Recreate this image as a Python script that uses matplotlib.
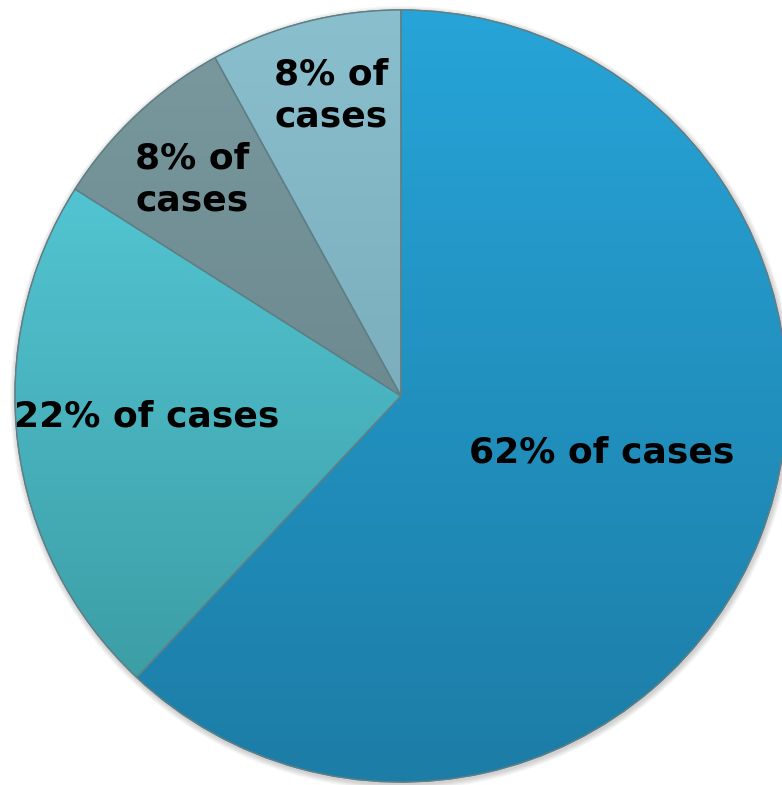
import numpy as np
import matplotlib.pyplot as plt
from matplotlib.colors import to_rgb

# slice data, clockwise from 12 o'clock
shares = [62, 22, 8, 8]
labels = ['62% of cases', '22% of cases', '8% of\ncases', '8% of\ncases']
top_colors = ['#27A4D8', '#5AD2E2', '#7A9AA0', '#8ABFCE']
bottom_colors = ['#1C7DA6', '#38969C', '#5F7A7E', '#6E9EAD']
# label placement (fraction of radius, angle in degrees)
label_pos = [(0.54, -15.8), (0.66, 184.7), (0.78, 134.0), (0.80, 103.0)]

fig = plt.figure(figsize=(7.82, 7.85), dpi=100)
ax = fig.add_axes([0, 0, 1, 1])

cx, cy, r = 401, 389, 386

# soft shadow
for k in range(6):
    circ = plt.Circle((cx + 1, cy - 2), r + 1 + k, color='k', alpha=0.03, lw=0)
    ax.add_patch(circ)

wedges, _ = ax.pie(shares, startangle=90, counterclock=False, center=(cx, cy),
                   radius=r, frame=True,
                   wedgeprops=dict(edgecolor='#5f7f86', linewidth=1.0))
ax.set_xlim(0, 782)
ax.set_ylim(0, 785)
ax.set_aspect('equal')
ax.axis('off')

# vertical gradient inside each wedge
ys = np.linspace(0, 1, 256)[:, None]
for w, c1, c2 in zip(wedges, top_colors, bottom_colors):
    a, b = np.array(to_rgb(c1)), np.array(to_rgb(c2))
    grad = a[None, None, :] * (1 - ys[..., None]) + b[None, None, :] * ys[..., None]
    grad = np.repeat(grad, 2, axis=1)
    im = ax.imshow(grad, extent=(cx - r, cx + r, cy - r, cy + r), origin='upper',
                   aspect='auto', zorder=w.get_zorder() + 0.1)
    im.set_clip_path(w)
    edge = plt.matplotlib.patches.Wedge((cx, cy), r, w.theta1, w.theta2,
                                        fill=False, edgecolor='#5f7f86', lw=1.0,
                                        zorder=w.get_zorder() + 0.2)
    ax.add_patch(edge)

for lab, (f, ang) in zip(labels, label_pos):
    t = np.deg2rad(ang)
    ax.text(cx + f * r * np.cos(t), cy + f * r * np.sin(t), lab,
            ha='center', va='center', fontsize=26, fontweight='bold',
            family='DejaVu Sans', color='black', zorder=10, linespacing=1.3)

fig.savefig('out.png', dpi=100)
